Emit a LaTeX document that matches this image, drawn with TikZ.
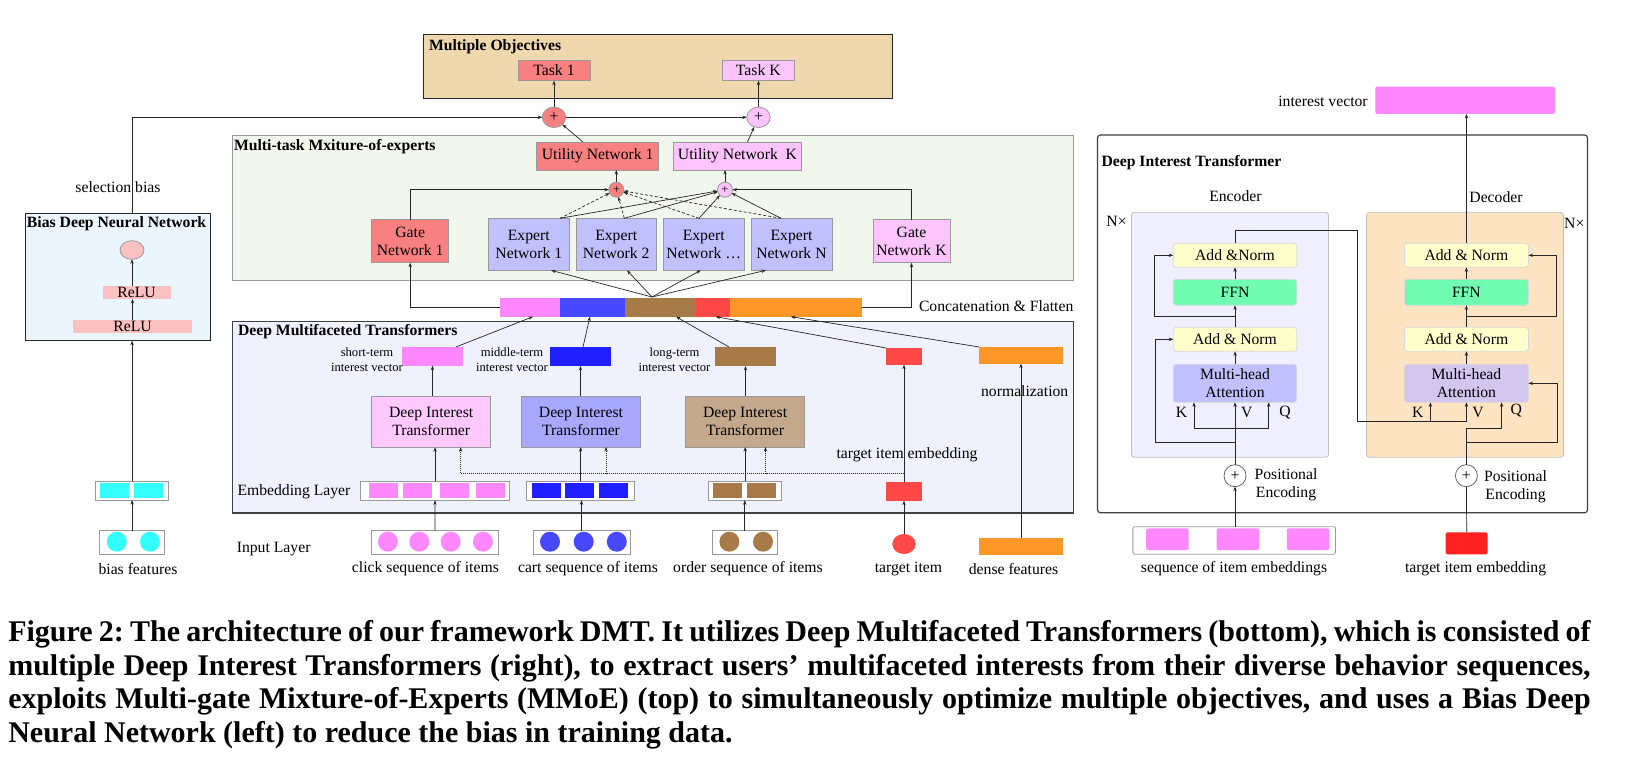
\documentclass[tikz,border=0pt]{standalone}
\usepackage{fontspec}
\setmainfont{Liberation Serif}
\usetikzlibrary{arrows.meta,shapes.geometric,calc}

\definecolor{moTan}{HTML}{EFD7AE}
\definecolor{rd}{HTML}{F88080}
\definecolor{pkC}{HTML}{FCC4FC}
\definecolor{expC}{HTML}{C0C0FF}
\definecolor{moeBg}{HTML}{F2F7EE}
\definecolor{dmtBg}{HTML}{EFF2FD}
\definecolor{biasBg}{HTML}{EBF5FD}
\definecolor{reluC}{HTML}{FBC0C0}
\definecolor{vpink}{HTML}{FF88FF}
\definecolor{vblue}{HTML}{4848FF}
\definecolor{dblue}{HTML}{1F1FFF}
\definecolor{vbrown}{HTML}{A87A48}
\definecolor{vred}{HTML}{FF4848}
\definecolor{vorange}{HTML}{FF9628}
\definecolor{cyanC}{HTML}{33FFFF}
\definecolor{ditA}{HTML}{FFC8FF}
\definecolor{ditB}{HTML}{A8A8FF}
\definecolor{ditC}{HTML}{C4A88C}
\definecolor{encBg}{HTML}{EFEFFF}
\definecolor{decBg}{HTML}{FFE4C4}
\definecolor{anC}{HTML}{FFFFCC}
\definecolor{ffnC}{HTML}{70FDB2}
\definecolor{mhaE}{HTML}{C0C0FF}
\definecolor{mhaD}{HTML}{D3C6EE}
\definecolor{tgtC}{HTML}{FF2020}

\newcommand\fsA{\fontsize{15.7}{18.5}\selectfont}
\newcommand\fsB{\fontsize{12.6}{14.7}\selectfont}
\newcommand\fsC{\fontsize{30}{34}\selectfont\bfseries\frenchspacing}

\begin{document}
\begin{tikzpicture}[x=1pt,y=-1pt, font=\fsA,
 box/.style={draw=black!40, line width=0.8pt, inner sep=0pt, outer sep=0pt, align=center},
 sq/.style={draw=none, inner sep=0pt, outer sep=0pt},
 rbox/.style={box, rounded corners=3pt},
 arr/.style={draw=black!85, line width=0.7pt, -{Stealth[length=4.5pt,width=3.4pt]}},
 ln/.style={draw=black!85, line width=0.7pt},
 dsh/.style={arr, dash pattern=on 3pt off 2pt},
 dtt/.style={arr, dash pattern=on 1pt off 1pt},
 lbl/.style={inner sep=0pt, outer sep=0pt, align=center},
 dotc/.style={circle, inner sep=0pt, outer sep=0pt, minimum size=20pt, draw=none},
 small/.style={sq, minimum width=29pt, minimum height=14.7pt},
]
\useasboundingbox (0,0) rectangle (1625,760);
\fill[white] (0,0) rectangle (1625,760);

%================ Multiple objectives
\node[box, draw=black!85, line width=1.2pt, fill=moTan, minimum width=468.7pt, minimum height=64pt] (mo) at (658,66.3) {};
\node[lbl, anchor=west, font=\fsA\bfseries] (mot) at (429,47) {Multiple Objectives};
\node[box, fill=rd, minimum width=72pt, minimum height=20.4pt] (t1) at (554,70.5) {Task 1};
\node[box, fill=pkC, minimum width=71.5pt, minimum height=20.4pt] (tk) at (758.3,70.5) {Task K};
\node[box, ellipse, fill=rd, minimum width=23.4pt, minimum height=20.4pt] (p1) at (554,117.3) {+};
\node[box, ellipse, fill=pkC, minimum width=23.4pt, minimum height=20.4pt] (pK) at (758.5,117.3) {+};

%================ MoE
\node[box, fill=moeBg, minimum width=841.2pt, minimum height=144.6pt] (moe) at (653.1,208) {};
\node[lbl, anchor=west, font=\fsA\bfseries] (moet) at (234,147) {Multi-task Mxiture-of-experts};
\node[box, fill=rd, minimum width=122pt, minimum height=28pt] (un1) at (597.7,156) {Utility Network 1};
\node[box, fill=pkC, minimum width=128.4pt, minimum height=28pt] (unk) at (737.5,156) {Utility Network\ \ K};
\node[box, circle, fill=rd, minimum size=15pt, font=\fsB] (sp1) at (616.3,189.7) {+};
\node[box, circle, fill=pkC, minimum size=15pt, font=\fsB] (spk) at (725,189.7) {+};
\node[box, fill=rd, minimum width=77pt, minimum height=43pt] (g1) at (410.2,241.2) {Gate\\Network 1};
\node[box, fill=pkC, minimum width=77pt, minimum height=43pt] (gk) at (911.5,241.3) {Gate\\Network K};
\node[box, fill=expC, minimum width=80.3pt, minimum height=52pt] (e1) at (528.8,244.3) {Expert\\Network 1};
\node[box, fill=expC, minimum width=80.3pt, minimum height=52pt] (e2) at (616.2,244.3) {Expert\\Network 2};
\node[box, fill=expC, minimum width=80.7pt, minimum height=52pt] (e3) at (703.7,244.3) {Expert\\Network …};
\node[box, fill=expC, minimum width=81pt, minimum height=52pt] (e4) at (791.5,244.3) {Expert\\Network N};

%================ Bias DNN
\node[box, draw=black!85, line width=1.2pt, fill=biasBg, minimum width=185.3pt, minimum height=127pt] (bias) at (118,277.2) {};
\node[lbl, anchor=west, font=\fsA\bfseries] (biast) at (27,224) {Bias Deep Neural Network};
\node[box, ellipse, fill=reluC, minimum width=24pt, minimum height=18.6pt] (bo) at (132,250) {};
\node[sq, fill=reluC, minimum width=68.2pt, minimum height=13pt] (r1) at (136.6,292.5) {ReLU};
\node[sq, fill=reluC, minimum width=119pt, minimum height=12.7pt] (r2) at (132.5,326.3) {ReLU};
\node[lbl] (sb) at (118,187) {selection bias};
\node[box, fill=white, minimum width=73pt, minimum height=19pt] (be) at (132.1,490.5) {};
\node[small, fill=cyanC] (be1) at (114.5,490.3) {};
\node[small, fill=cyanC] (be2) at (148.5,490.3) {};
\node[box, fill=white, minimum width=65pt, minimum height=23.3pt] (bi) at (132.1,542.3) {};
\node[dotc, fill=cyanC] (bc1) at (116.8,541.7) {};
\node[dotc, fill=cyanC] (bc2) at (150,541.7) {};
\node[lbl] (bft) at (138,569) {bias features};

%================ DMT
\node[box, draw=black!75, line width=1.2pt, fill=dmtBg, minimum width=841.2pt, minimum height=191.3pt] (dmt) at (653.1,417.3) {};
\node[lbl, anchor=west, font=\fsA\bfseries] (dmtt) at (238,332) {Deep Multifaceted Transformers};
\node[sq, fill=vpink, minimum width=61pt, minimum height=18.7pt] (sv) at (432.5,356.3) {};
\node[sq, fill=dblue, minimum width=61pt, minimum height=19pt] (mv) at (580.5,356.5) {};
\node[sq, fill=vbrown, minimum width=61pt, minimum height=19pt] (lv) at (745.5,356.5) {};
\node[sq, fill=vred, minimum width=36pt, minimum height=16.7pt] (tv) at (904,356.3) {};
\node[sq, fill=vorange, minimum width=84pt, minimum height=16.7pt] (ov) at (1021,355.3) {};
\node[lbl, font=\fsB] (svl) at (367,359.6) {short-term\\interest vector};
\node[lbl, font=\fsB] (mvl) at (512,359.6) {middle-term\\interest vector};
\node[lbl, font=\fsB] (lvl) at (674.5,359.6) {long-term\\interest vector};
\node[box, fill=ditA, minimum width=119pt, minimum height=51.3pt] (d1) at (431.2,421.6) {Deep Interest\\Transformer};
\node[box, fill=ditB, minimum width=119pt, minimum height=51pt] (d2) at (581,421.5) {Deep Interest\\Transformer};
\node[box, fill=ditC, minimum width=118.8pt, minimum height=51pt] (d3) at (745.1,421.5) {Deep Interest\\Transformer};
\node[lbl, anchor=west] (eml) at (237.5,492) {Embedding Layer};
\node[lbl, anchor=west] (inl) at (236.8,549.3) {Input Layer};
\node[box, fill=white, minimum width=148.6pt, minimum height=19.3pt] (ce) at (435,490.6) {};
\foreach \x [count=\i] in {383.5,417.5,454.5,490.5} \node[small, fill=vpink] (ce\i) at (\x,490.3) {};
\node[box, fill=white, minimum width=107.9pt, minimum height=19.3pt] (cae) at (580.7,490.6) {};
\foreach \x [count=\i] in {546.5,579.5,613.5} \node[small, fill=dblue] (cae\i) at (\x,490.3) {};
\node[box, fill=white, minimum width=73pt, minimum height=19.3pt] (oe) at (745.2,490.6) {};
\foreach \x [count=\i] in {727.5,761.5} \node[small, fill=vbrown] (oe\i) at (\x,490.3) {};
\node[sq, fill=vred, minimum width=36pt, minimum height=18.7pt] (te) at (904,491.3) {};
\node[box, fill=white, minimum width=126.2pt, minimum height=23.3pt] (ci) at (434.9,542.3) {};
\foreach \x [count=\i] in {387.9,419.3,450.7,482.9} \node[dotc, fill=vpink] (ci\i) at (\x,541.7) {};
\node[box, fill=white, minimum width=97pt, minimum height=23.3pt] (cai) at (581.5,542.3) {};
\foreach \x [count=\i] in {550,583.7,616.8} \node[dotc, fill=vblue] (cai\i) at (\x,541.7) {};
\node[box, fill=white, minimum width=65.6pt, minimum height=23.3pt] (oi) at (744.8,542.3) {};
\foreach \x [count=\i] in {729.4,763} \node[dotc, fill=vbrown] (oi\i) at (\x,541.7) {};
\node[sq, ellipse, fill=vred, minimum width=23.4pt, minimum height=20pt] (tc) at (904,544) {};
\node[sq, fill=vorange, minimum width=84pt, minimum height=16.7pt] (dn) at (1021,546.3) {};
\node[lbl] (cil) at (425.4,569) {click sequence of items};
\node[lbl] (cail) at (588,569) {cart sequence of items};
\node[lbl] (oil) at (748,569) {order sequence of items};
\node[lbl] (tcl) at (908.5,569) {target item};
\node[lbl] (dnl) at (1013.5,569) {dense features};
\node[lbl] (tel) at (907,455) {target item embedding};
\node[lbl] (nml) at (1024.7,390.7) {normalization};

%================ Concat bar
\node[sq, fill=vpink, minimum width=60pt, minimum height=18.7pt] (cP) at (530,307.3) {};
\node[sq, fill=vblue, minimum width=64.6pt, minimum height=18.7pt] (cB) at (592.3,307.3) {};
\node[sq, fill=vbrown, minimum width=70pt, minimum height=18.7pt] (cN) at (659.6,307.3) {};
\node[sq, fill=vred, minimum width=35.4pt, minimum height=18.7pt] (cR) at (712.3,307.3) {};
\node[sq, fill=vorange, minimum width=131.6pt, minimum height=18.7pt] (cO) at (795.8,307.3) {};
\node[lbl, anchor=west] (cfl) at (919,306) {Concatenation \& Flatten};
\coordinate (fan) at (652,297);

%================ connectors: top
\draw[arr] (p1.north) -- (t1.south);
\draw[arr] (pK.north) -- (pK.north |- tk.south);
\draw[arr] (p1.east) -- (pK.west);
\draw[arr] ([xshift=-14.7pt]un1.north) -- (p1);
\draw[arr] ([xshift=10pt]unk.north) -- (pK);
\draw[arr] (sp1.north) -- (sp1.north |- un1.south);
\draw[arr] (spk.north) -- (spk.north |- unk.south);
\draw[arr] (g1.north) |- (sp1.west);
\draw[arr] (gk.north) |- (spk.east);
\foreach \e/\s in {e1/31.2,e2/8.1,e3/-4.7,e4/-10.5}{
  \draw[dsh] ([xshift=\s pt]\e.north) -- (sp1);
  \draw[arr] ([xshift=\s pt]\e.north) -- (spk);
}
\foreach \e/\s in {e1/22.2,e2/10.8,e3/-3,e4/-25.5}{
  \draw[arr] (fan) -- ([xshift=\s pt]\e.south);
}
\draw[arr] (cP.west) -| (g1.south);
\draw[arr] (cO.east) -| (gk.south);

%================ connectors: bias
\draw[arr] (bias.north -| bo.south) |- (p1.west);
\draw[arr] (r2.north) -- (r2.north |- r1.south);
\draw[arr] (r1.north -| bo.south) -- (bo.south);
\draw[arr] (bi.north) -- (be.south);
\draw[arr] (be.north) -- (be.north |- bias.south);

%================ connectors: DMT
\draw[arr] (ci.north) -- (ce.south);
\draw[arr] (cai.north) -- (cai.north |- cae.south);
\draw[arr] (oi.north) -- (oi.north |- oe.south);
\draw[arr] (tc.north) -- (te.south);
\draw[arr] (ce.north) -- (ce.north |- d1.south);
\draw[arr] (cae.north) -- (cae.north |- d2.south);
\draw[arr] (oe.north) -- (oe.north |- d3.south);
\draw[arr] (te.north) -- (tv.south);
\coordinate (dj) at (904,473.7);
\draw[dtt] (dj) -| ([xshift=29.5pt]d1.south);
\draw[dtt] (dj) -| ([xshift=25pt]d2.south);
\draw[dtt] (dj) -| ([xshift=20.4pt]d3.south);
\draw[arr] (d1.north -| sv.south) -- (sv.south);
\draw[arr] (d2.north -| mv.south) -- (mv.south);
\draw[arr] (d3.north -| lv.south) -- (lv.south);
\draw[arr] (dn.north) -- (dn.north |- ov.south);
\draw[arr] ([xshift=23.5pt]sv.north) -- ([xshift=3pt]cP.south);
\draw[arr] ([xshift=2.5pt]mv.north) -- ([xshift=-2.3pt]cB.south);
\draw[arr] ([xshift=-16.5pt]lv.north) -- ([xshift=16.4pt]cN.south);
\draw[arr] (tv.north west) -- ([xshift=3.3pt]cR.south);
\draw[arr] (ov.north west) -- ([xshift=-5pt]cO.south);

%================ Right panel
\node[sq, rounded corners=2pt, fill=vpink, minimum width=179.4pt, minimum height=27.3pt] (iv) at (1465.1,100.3) {};
\node[lbl] (ivl) at (1323,101) {interest vector};
\node[rbox, draw=black!75, line width=1.2pt, fill=white, minimum width=490.1pt, minimum height=377.7pt] (ditb) at (1342.5,323.9) {};
\node[lbl, anchor=west, font=\fsA\bfseries] (ditt) at (1101.5,162.7) {Deep Interest Transformer};
\node[lbl] (encl) at (1235.4,195.7) {Encoder};
\node[lbl] (decl) at (1496,196.7) {Decoder};
\node[rbox, draw=black!25, fill=encBg, minimum width=197.1pt, minimum height=245pt] (encb) at (1230,334.8) {};
\node[rbox, draw=black!25, fill=decBg, minimum width=197.1pt, minimum height=245pt] (decb) at (1465,334.8) {};
\node[lbl] (nx1) at (1116.5,221) {N×};
\node[lbl] (nx2) at (1574.3,223.3) {N×};
% encoder blocks
\node[rbox, draw=black!15, fill=anC, minimum width=123.5pt, minimum height=24pt] (eant) at (1235,255.3) {Add \&Norm};
\node[rbox, draw=black!15, fill=ffnC, minimum width=123.5pt, minimum height=26pt] (effn) at (1235,292.3) {FFN};
\node[rbox, draw=black!15, fill=anC, minimum width=123.5pt, minimum height=24pt] (eanl) at (1235,339.3) {Add \& Norm};
\node[rbox, draw=black!15, fill=mhaE, minimum width=123.5pt, minimum height=38pt] (emha) at (1235,383.3) {Multi-head\\Attention};
% decoder blocks
\node[rbox, draw=black!15, fill=anC, minimum width=124.1pt, minimum height=24pt] (dant) at (1466.4,255.3) {Add \& Norm};
\node[rbox, draw=black!15, fill=ffnC, minimum width=124.1pt, minimum height=26pt] (dffn) at (1466.4,292.3) {FFN};
\node[rbox, draw=black!15, fill=anC, minimum width=124.1pt, minimum height=24pt] (danl) at (1466.4,339.3) {Add \& Norm};
\node[rbox, draw=black!15, fill=mhaD, minimum width=124.1pt, minimum height=38pt] (dmha) at (1466.4,383.3) {Multi-head\\Attention};
% K V Q labels
\node[lbl] (ek) at (1181.5,412.3) {K};
\node[lbl] (ev) at (1246.8,412.3) {V};
\node[lbl] (eq) at (1285,412.3) {Q};
\node[lbl] (dk) at (1417.9,412.3) {K};
\node[lbl] (dv) at (1478,412.3) {V};
\node[lbl] (dq) at (1516.2,410.5) {Q};
% positional encoding
\node[box, circle, draw=black!60, fill=white, minimum size=22pt] (ep) at (1235,475.7) {+};
\node[box, circle, draw=black!60, fill=white, minimum size=22pt] (dp) at (1466.4,475.7) {+};
\node[lbl] (epl) at (1286,484.5) {Positional\\Encoding};
\node[lbl] (dpl) at (1515.5,486.5) {Positional\\Encoding};
% inputs
\node[rbox, rounded corners=2pt, draw=black!40, fill=white, minimum width=202.7pt, minimum height=27.6pt] (seq) at (1234.2,540.5) {};
\foreach \x [count=\i] in {1167.4,1237.8,1308} \node[sq, rounded corners=2pt, fill=vpink, minimum width=42.5pt, minimum height=21.7pt] (seq\i) at (\x,539.2) {};
\node[sq, rounded corners=2pt, fill=tgtC, minimum width=42pt, minimum height=22pt] (tgt) at (1466.7,543.3) {};
\node[lbl] (seql) at (1234,568.7) {sequence of item embeddings};
\node[lbl] (tgtl) at (1475.6,568.7) {target item embedding};

% encoder connectors
\coordinate (ej1) at (1235,442.3);
\coordinate (ej2) at (1235,428.3);
\draw[arr] (ep.south |- seq.north) -- (ep.south);
\draw[arr] (ep.north) -- (emha.south);
\draw[arr] (ej2) -| ([xshift=-41pt]emha.south);
\draw[arr] (ej2) -| ([xshift=33.7pt]emha.south);
\draw[arr] (ej1) -- ++(-79.6,0) |- (eanl.west);
\coordinate (ej3) at ($(eanl.north)!0.5!(effn.south)$);
\draw[arr] (ej3) -- ++(-80.3,0) |- (eant.west);
\draw[arr] (emha.north) -- (eanl.south);
\draw[arr] (eanl.north) -- (effn.south);
\draw[arr] (effn.north) -- (eant.south);
% encoder to decoder
\coordinate (xtop) at (1357.4,230.7);
\coordinate (xo) at (1357.4,421.7);
\coordinate (dvj) at (1466.4,421.7);
\draw[ln] (eant.north) |- (xtop) -- (xo) -- (dvj);
\draw[arr] (dvj) -- (dmha.south);
\draw[arr] ([xshift=-36pt]dmha.south |- xo) -- ([xshift=-36pt]dmha.south);
% decoder connectors
\coordinate (dj1) at (1466.4,442.3);
\coordinate (dj2) at (1466.4,428.3);
\draw[ln] (tgt.north) -- (dp.south);
\draw[ln] (dp.north) -- (dj2);
\draw[arr] (dj2) -| ([xshift=35.2pt]dmha.south);
\draw[arr] (dj1) -- ++(90.6,0) |- (dmha.east);
\coordinate (dj3) at ($(danl.north)!0.5!(dffn.south)$);
\draw[arr] (dj3) -- ++(90.3,0) |- (dant.east);
\draw[arr] (dmha.north) -- (danl.south);
\draw[arr] (danl.north) -- (dffn.south);
\draw[arr] (dffn.north) -- (dant.south);
\draw[arr] (dant.north) -- (dant.north |- iv.south);

%================ Caption
\node[lbl, anchor=base west, font=\fsC] (cap1) at (8.3,641) {\makebox[1582.4pt][s]{Figure 2: The architecture of our framework DMT. It utilizes Deep Multifaceted Transformers (bottom), which is consisted of}};
\node[lbl, anchor=base west, font=\fsC] (cap2) at (8.3,675) {\makebox[1582.4pt][s]{multiple Deep Interest Transformers (right), to extract users’ multifaceted interests from their diverse behavior sequences,}};
\node[lbl, anchor=base west, font=\fsC] (cap3) at (8.3,708.5) {\makebox[1582.4pt][s]{exploits Multi-gate Mixture-of-Experts (MMoE) (top) to simultaneously optimize multiple objectives, and uses a Bias Deep}};
\node[lbl, anchor=base west, font=\fsC] (cap4) at (8.3,742) {Neural Network (left) to reduce the bias in training data.};
\end{tikzpicture}
\end{document}
